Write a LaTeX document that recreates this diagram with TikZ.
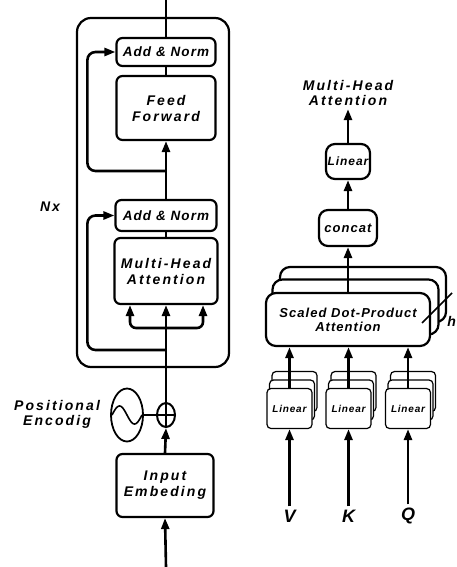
\documentclass[tikz,border=0pt]{standalone}
\usepackage{fontspec}
\newfontfamily\wideface[LetterSpace=15]{Liberation Sans}
\newfontfamily\tightface[LetterSpace=8]{Liberation Sans}
\usetikzlibrary{arrows.meta,calc,positioning,shapes.geometric}
\newcommand{\fs}[1]{\fontsize{#1}{#1}\selectfont}

\begin{document}
\begin{tikzpicture}[x=1pt,y=-1pt,font=\wideface\bfseries\itshape\fs{14},
  blk/.style={draw,line width=2.2pt,rounded corners=6pt,inner sep=0pt,align=center},
  linbox/.style={draw,line width=1.2pt,rounded corners=4pt,inner sep=0pt,fill=white,
    minimum width=45pt,minimum height=40pt,font=\tightface\bfseries\itshape\fs{10}},
  wire/.style={line width=2.6pt},
  arr/.style={wire,-{Triangle[length=11pt,width=8pt]}}]
\useasboundingbox (0,0) rectangle (456,567);

% encoder stack
\draw[line width=2.2pt,rounded corners=14pt] (77,18) rectangle (229,367);
\node[blk,minimum width=99pt,minimum height=28pt,font=\tightface\bfseries\itshape\fs{13.5}] (an1) at (166,52) {Add \& Norm};
\node[blk,minimum width=99pt,minimum height=64pt] (ff) at (166,108) {Feed\\[2pt]Forward};
\node[blk,minimum width=101pt,minimum height=31pt,font=\tightface\bfseries\itshape\fs{13.5}] (an2) at (166,215.5) {Add \& Norm};
\node[blk,minimum width=103pt,minimum height=66pt] (mha) at (166,271) {Multi-Head\\[2pt]Attention};
\node (nx) at (50,207) {Nx};

\coordinate (out) at (166,0);
\coordinate (res1) at (166,171);
\coordinate (res2) at (166,350);
\coordinate (split) at (166,328);
\draw[wire] (an1.north) -- (out);
\draw[wire] (an1.south) -- (ff.north);
\draw[arr] (an2.north) -- (ff.south);
\draw[wire] (mha.north) -- (an2.south);
\draw[arr,rounded corners=8pt] (res1) -| ([xshift=-28pt]an1.west) -- (an1.west);
\draw[arr,rounded corners=8pt] (res2) -| ([xshift=-27pt]an2.west) -- (an2.west);
\draw[arr,rounded corners=6pt] (split) -| ([xshift=-36pt]mha.south);
\draw[arr,rounded corners=6pt] (split) -| ([xshift=37pt]mha.south);

% input side
\node[blk,minimum width=97pt,minimum height=63pt] (emb) at (165,485.5) {Input\\[2pt]Embeding};
\node[draw,ellipse,line width=2pt,minimum width=18pt,minimum height=24pt,inner sep=0pt] (plus) at (166,415) {};
\draw[line width=2pt] (plus.north) -- (plus.south) (plus.west) -- (plus.east);
\node[draw,ellipse,line width=1.8pt,minimum width=32pt,minimum height=53pt,inner sep=0pt] (sig) at (127,415) {};
\draw[line width=1.6pt,shift={(sig.center)}] plot[domain=-15:15,samples=40] (\x,{9*sin(12*\x)});
\node[align=center] (pe) at (57,414) {Positional\\[1pt]Encodig};
\coordinate (inp) at (166,567);
\draw[line width=2pt] (sig.east) -- (plus.west);
\draw[arr] (plus.north) -- (mha.south);
\draw[arr] (emb.north) -- (plus.south);
\draw[arr] (inp) -- (emb.south);

% multi-head attention
\node[align=center] (mhat) at (348,93) {Multi-Head\\[1pt]Attention};
\node[blk,rounded corners=9pt,minimum width=44pt,minimum height=35pt,font=\tightface\bfseries\itshape\fs{12}] (lin) at (348,161.5) {Linear};
\node[blk,rounded corners=9pt,minimum width=58pt,minimum height=36pt,font=\tightface\bfseries\itshape\fs{13}] (cat) at (348,228) {concat};
\foreach \s in {2,1}
  \draw[line width=2.2pt,rounded corners=10pt,fill=white]
    ($(265,292)+(\s*7.5,-\s*12.5)$) rectangle ($(431,347)+(\s*7.5,-\s*12.5)$);
\node[blk,rounded corners=10pt,fill=white,minimum width=164pt,minimum height=53pt,font=\tightface\bfseries\itshape\fs{13}] (sdpa) at (348,319.5) {Scaled Dot-Product\\[1pt]Attention};
\draw[line width=1.6pt] (422,323) -- (452,293);
\node[anchor=south east,inner sep=0pt,font=\tightface\bfseries\itshape\fs{14}] (hh) at (456,327) {h};
\draw[arr] (sdpa.north) -- (cat.south);
\draw[arr] (cat.north) -- (lin.south);
\draw[arr] (lin.north) -- (mhat.south);

\foreach \n/\x/\t in {lv/289.5/V,lk/348.5/K,lq/408/Q}{
  \node[linbox] at ($(\x,408.5)+(5,-17)$) {};
  \node[linbox] at ($(\x,408.5)+(2.5,-8.5)$) {};
  \node[linbox] (\n) at (\x,408.5) {Linear};
  \node[font=\wideface\bfseries\itshape\fs{18}] (\t) at (\x,516) {\t};
  \draw[arr] (\t.north) -- (\n.south);
  \draw[arr] (\n.north) -- (\n.north |- sdpa.south);
}
\end{tikzpicture}
\end{document}
